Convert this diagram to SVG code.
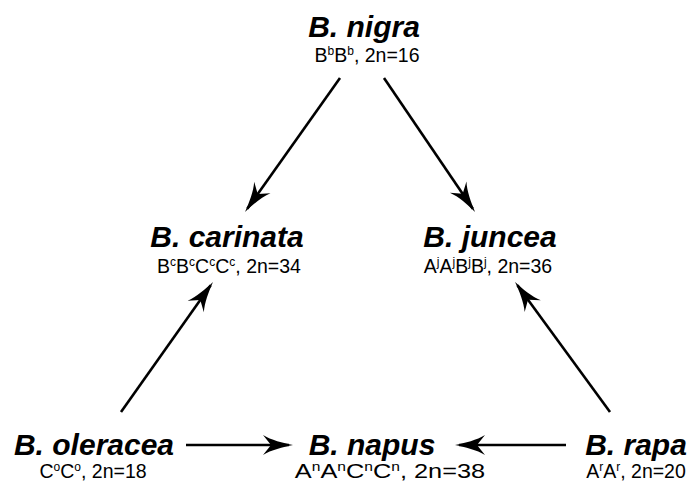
<svg xmlns="http://www.w3.org/2000/svg" width="688" height="482" viewBox="0 0 688 482">
<defs>
<style>
.t{font-family:"Liberation Sans",Arial,sans-serif;font-weight:bold;font-style:italic;font-size:30px;fill:#000;text-anchor:middle}
.s{font-family:"Liberation Sans",Arial,sans-serif;font-size:19.5px;fill:#000;text-anchor:middle}
.s tspan.u{font-size:12px}
.c{stroke:#000;stroke-width:2.6;fill:none}
</style>
<marker id="ah" markerUnits="userSpaceOnUse" markerWidth="40" markerHeight="30" viewBox="-2 -15 40 30" refX="26" refY="0" orient="auto">
<path d="M30,0 C20,-2 8,-5 0,-10 L8,0 L0,10 C8,5 20,2 30,0 Z" fill="#000"/>
</marker>
</defs>
<rect width="688" height="482" fill="#fff"/>
<g id="connectors">
<line class="c" x1="340" y1="78" x2="247.3" y2="208.7" marker-end="url(#ah)"/>
<line class="c" x1="384" y1="78" x2="472.8" y2="208.7" marker-end="url(#ah)"/>
<line class="c" x1="121" y1="412" x2="210.7" y2="285.3" marker-end="url(#ah)"/>
<line class="c" x1="610" y1="412" x2="517.4" y2="285.2" marker-end="url(#ah)"/>
<line class="c" x1="186" y1="445" x2="289" y2="445" marker-end="url(#ah)"/>
<line class="c" x1="566" y1="445" x2="459" y2="445" marker-end="url(#ah)"/>
</g>
<g id="nigra">
<text class="t" x="364" y="37">B. nigra</text>
<text class="s" x="367" y="62">B<tspan class="u" dy="-7">b</tspan><tspan dy="7">B</tspan><tspan class="u" dy="-7">b</tspan><tspan dy="7">, 2n=16</tspan></text>
</g>
<g id="carinata">
<text class="t" x="227" y="247">B. carinata</text>
<text class="s" x="229" y="273">B<tspan class="u" dy="-7">c</tspan><tspan dy="7">B</tspan><tspan class="u" dy="-7">c</tspan><tspan dy="7">C</tspan><tspan class="u" dy="-7">c</tspan><tspan dy="7">C</tspan><tspan class="u" dy="-7">c</tspan><tspan dy="7">, 2n=34</tspan></text>
</g>
<g id="juncea">
<text class="t" x="490" y="247">B. juncea</text>
<text class="s" x="488" y="273">A<tspan class="u" dy="-7">j</tspan><tspan dy="7">A</tspan><tspan class="u" dy="-7">j</tspan><tspan dy="7">B</tspan><tspan class="u" dy="-7">j</tspan><tspan dy="7">B</tspan><tspan class="u" dy="-7">j</tspan><tspan dy="7">, 2n=36</tspan></text>
</g>
<g id="oleracea">
<text class="t" x="94" y="455">B. oleracea</text>
<text class="s" x="93" y="478">C<tspan class="u" dy="-7">o</tspan><tspan dy="7">C</tspan><tspan class="u" dy="-7">o</tspan><tspan dy="7">, 2n=18</tspan></text>
</g>
<g id="napus">
<text class="t" x="372" y="455">B. napus</text>
<text class="s" transform="translate(390,478) scale(1.3,1)" x="0" y="0">A<tspan class="u" dy="-7">n</tspan><tspan dy="7">A</tspan><tspan class="u" dy="-7">n</tspan><tspan dy="7">C</tspan><tspan class="u" dy="-7">n</tspan><tspan dy="7">C</tspan><tspan class="u" dy="-7">n</tspan><tspan dy="7">, 2n=38</tspan></text>
</g>
<g id="rapa">
<text class="t" x="636" y="455">B. rapa</text>
<text class="s" x="636" y="478">A<tspan class="u" dy="-7">r</tspan><tspan dy="7">A</tspan><tspan class="u" dy="-7">r</tspan><tspan dy="7">, 2n=20</tspan></text>
</g>
</svg>
